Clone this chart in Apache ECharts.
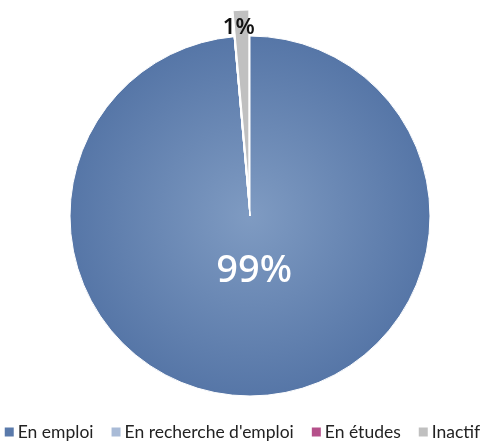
<!DOCTYPE html>
<html>
<head>
<meta charset="utf-8">
<script src="https://cdn.jsdelivr.net/npm/echarts@6/dist/echarts.min.js"></script>
<style>
html, body { margin: 0; padding: 0; background: #fff; }
#chart { width: 483px; height: 441px; }
</style>
</head>
<body>
<div id="chart"></div>
<script>
var categories = ['En emploi', 'En recherche d\'emploi', 'En études', 'Inactif'];
var values = [98.6, 0, 0, 1.4];
var colors = ['#5a7aab', '#a9bbd7', '#b5508a', '#c0c0c0'];

var myChart = echarts.init(document.getElementById('chart'));

var pieData = categories.map(function (name, i) {
    var item = {
        name: name,
        value: values[i],
        itemStyle: { color: colors[i] },
        label: { show: values[i] > 0 }
    };
    if (i === 0) {
        // degrade radial comme dans la figure
        item.itemStyle.color = {
            type: 'radial', x: 0.5, y: 0.5, r: 0.5,
            colorStops: [
                { offset: 0, color: '#7f9bc2' },
                { offset: 1, color: '#5676a7' }
            ]
        };
        item.label.fontSize = 38;
        item.label.color = '#ffffff';
        item.label.fontWeight = 500;
    }
    if (i === 3) {
        item.selected = true;
        item.label.fontSize = 22;
        item.label.color = '#111111';
        item.label.fontWeight = 600;
    }
    return item;
});

var option = {
    animation: false,
    textStyle: { fontFamily: 'Noto Sans' },
    legend: {
        top: 423,
        left: 'center',
        padding: 0,
        itemWidth: 11,
        itemHeight: 11,
        itemGap: 16,
        icon: 'rect',
        textStyle: { fontSize: 17.5, color: '#222', fontFamily: 'Lato', padding: [0, 0, 0, -2] },
        data: categories.map(function (name, i) {
            return { name: name, itemStyle: { color: colors[i] } };
        })
    },
    series: [{
        type: 'pie',
        center: [250, 216],
        radius: 180,
        startAngle: 90,
        clockwise: true,
        selectedMode: 'single',
        selectedOffset: 26,
        avoidLabelOverlap: false,
        itemStyle: { borderColor: '#fff', borderWidth: 1 },
        label: {
            position: 'inside',
            formatter: function (p) { return Math.round(p.value) + '%'; },
            fontFamily: 'Noto Sans'
        },
        labelLine: { show: false },
        labelLayout: function (params) {
            if (params.dataIndex === 0) return { dy: -38 };
            if (params.dataIndex === 3) return { dx: -6, dy: -69 };
            return {};
        },
        emphasis: { disabled: true },
        data: pieData
    }]
};

myChart.setOption(option);
window.addEventListener('resize', function () {
    myChart.resize();
});
</script>
</body>
</html>
